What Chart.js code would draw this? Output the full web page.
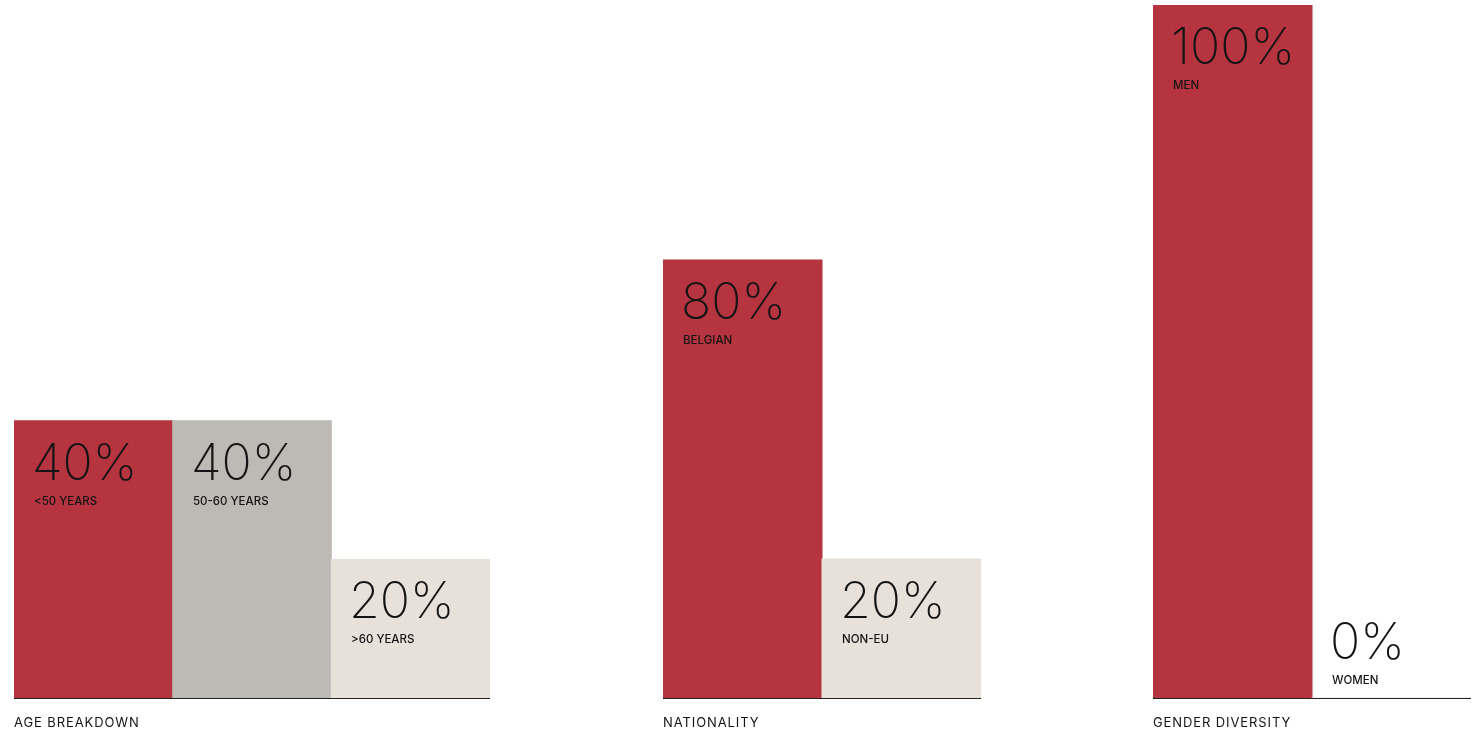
<!DOCTYPE html>
<html lang="en">
<head>
  <meta charset="UTF-8">
  <title>Board composition</title>
  <script src="https://cdn.jsdelivr.net/npm/chart.js"></script>
  <style>
    body { margin: 0; background: #fff; }
    .panel { position: absolute; top: 0; height: 730px; }
  </style>
</head>
<body>
  <div class="panel" style="left:14px; width:476px;"><canvas id="ageChart"></canvas></div>
  <div class="panel" style="left:663px; width:318px;"><canvas id="nationalityChart"></canvas></div>
  <div class="panel" style="left:1153px; width:318px;"><canvas id="genderChart"></canvas></div>

  <script>
    // Datos de cada bloque
    const ageLabels = ['<50 YEARS', '50-60 YEARS', '>60 YEARS'];
    const ageValues = [40, 40, 20];
    const ageColors = ['#b53440', '#bdbab5', '#e7e1da'];

    const nationalityLabels = ['BELGIAN', 'NON-EU'];
    const nationalityValues = [80, 20];
    const nationalityColors = ['#b53440', '#e7e1da'];

    const genderLabels = ['MEN', 'WOMEN'];
    const genderValues = [100, 0];
    const genderColors = ['#b53440', '#e7e1da'];

    const numberFont = '200 50px Inter';
    const smallFont = '500 11.5px Inter';
    const textColor = '#141414';

    // Porcentaje y etiqueta dentro de cada barra, linea base y titulo del bloque
    const barTextPlugin = {
      id: 'barText',
      afterDatasetsDraw(chart, args, opts) {
        const ctx = chart.ctx;
        const area = chart.chartArea;
        const meta = chart.getDatasetMeta(0);
        const values = chart.data.datasets[0].data;
        ctx.save();
        ctx.fillStyle = textColor;
        ctx.textAlign = 'left';
        ctx.textBaseline = 'alphabetic';
        meta.data.forEach((bar, i) => {
          const left = Math.round(bar.x - bar.width / 2) + 18;
          const numberTop = Math.min(bar.y + 23, area.bottom - 75);
          ctx.font = numberFont;
          ctx.fillText(values[i] + '%', left, numberTop + 36);
          ctx.font = smallFont;
          ctx.fillText(chart.data.labels[i], left + 2, numberTop + 61);
        });
        // linea base
        ctx.strokeStyle = '#222';
        ctx.lineWidth = 1;
        ctx.beginPath();
        ctx.moveTo(area.left, area.bottom + 0.5);
        ctx.lineTo(area.right, area.bottom + 0.5);
        ctx.stroke();
        // titulo
        ctx.font = '400 13px Inter';
        ctx.letterSpacing = '0.9px';
        ctx.fillText(opts.title, area.left, area.bottom + 29);
        ctx.restore();
      }
    };

    function makeChart(id, labels, values, colors, title, yMin, yMax) {
      return new Chart(document.getElementById(id), {
        type: 'bar',
        data: {
          labels: labels,
          datasets: [{
            data: values,
            backgroundColor: colors,
            borderWidth: 0,
            inflateAmount: 0.5,
            barPercentage: 1,
            categoryPercentage: 1,
            base: yMin
          }]
        },
        options: {
          responsive: true,
          maintainAspectRatio: false,
          animation: false,
          layout: { padding: { top: 5, bottom: 32, left: 0, right: 0 } },
          scales: {
            x: { display: false },
            y: { display: false, min: yMin, max: yMax }
          },
          plugins: {
            legend: { display: false },
            tooltip: { enabled: false },
            barText: { title: title }
          }
        },
        plugins: [barTextPlugin]
      });
    }

    makeChart('ageChart', ageLabels, ageValues, ageColors, 'AGE BREAKDOWN', 0, 100);
    // el bloque de nacionalidad tiene su propia escala
    makeChart('nationalityChart', nationalityLabels, nationalityValues, nationalityColors, 'NATIONALITY', -7.9, 131.2);
    makeChart('genderChart', genderLabels, genderValues, genderColors, 'GENDER DIVERSITY', 0, 100);
  </script>
</body>
</html>
